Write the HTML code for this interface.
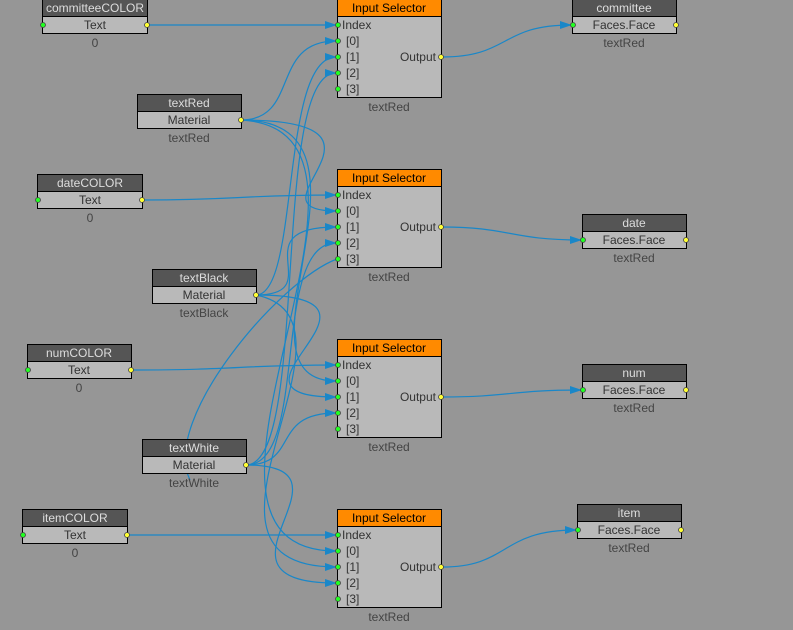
<!DOCTYPE html>
<html><head><meta charset="utf-8"><style>
html,body{margin:0;padding:0;background:#969696;}
svg{display:block;font-family:"Liberation Sans",sans-serif;font-size:12px;}
.h{fill:#555;stroke:#000;stroke-width:1}
.b{fill:#b9b9b9;stroke:#000;stroke-width:1}
.o{fill:#ff8a00;stroke:#000;stroke-width:1}
.ht{fill:#ddd;text-anchor:middle}
.bt{fill:#333;text-anchor:middle}
.lt{fill:#444;text-anchor:middle}
.w{fill:none;stroke:#1a87c8;stroke-width:1.2}
.g{fill:#2f2;stroke:#444;stroke-width:.8}
.y{fill:#ff3;stroke:#444;stroke-width:.8}
</style></head><body>
<svg width="793" height="630" viewBox="0 0 793 630" xmlns="http://www.w3.org/2000/svg">
<defs><marker id="a" markerWidth="12" markerHeight="8" refX="11" refY="4" orient="auto" markerUnits="userSpaceOnUse"><path d="M0,0 L12,4 L0,8z" fill="#1a87c8"/></marker></defs>

<g class="w">
<path d="M147,25 L336,25" marker-end="url(#a)"/>
<path d="M142,200 C240,200 240,195 336,195" marker-end="url(#a)"/>
<path d="M131,370 C240,370 240,365 336,365" marker-end="url(#a)"/>
<path d="M127,535 L336,535" marker-end="url(#a)"/>
<path d="M442,57 C510,57 500,25 571,25" marker-end="url(#a)"/>
<path d="M442,227 C510,227 510,240 581,240" marker-end="url(#a)"/>
<path d="M442,397 C510,397 510,390 581,390" marker-end="url(#a)"/>
<path d="M442,567 C510,567 500,530 576,530" marker-end="url(#a)"/>
<path d="M241,120 C300,120 270,41 336,41" marker-end="url(#a)"/>
<path d="M241,120 C420,120 240,211 336,211" marker-end="url(#a)"/>
<path d="M241,120 C400,120 220,381 336,381" marker-end="url(#a)"/>
<path d="M241,120 C430,130 140,551 336,551" marker-end="url(#a)"/>
<path d="M256,295 C300,295 280,57 336,57" marker-end="url(#a)"/>
<path d="M256,295 C330,295 240,227 336,227" marker-end="url(#a)"/>
<path d="M256,295 C420,295 200,397 336,397" marker-end="url(#a)"/>
<path d="M256,295 C380,320 160,567 336,567" marker-end="url(#a)"/>
<path d="M246,465 C310,465 270,73 336,73" marker-end="url(#a)"/>
<path d="M246,465 C310,465 270,243 336,243" marker-end="url(#a)"/>
<path d="M246,465 C300,465 270,413 336,413" marker-end="url(#a)"/>
<path d="M246,465 C370,465 190,583 336,583" marker-end="url(#a)"/>
<path d="M190,480 C160,420 280,280 337,259"/>
</g>

<g>
<rect class="h" x="42.5" y="-0.5" width="105" height="17"/><rect class="b" x="42.5" y="16.5" width="105" height="17"/>
<text class="ht" x="95" y="12">committeeCOLOR</text><text class="bt" x="95" y="29">Text</text><text class="lt" x="95" y="47">0</text>
<circle class="g" cx="43" cy="25" r="2.5"/><circle class="y" cx="147" cy="25" r="2.5"/>

<rect class="h" x="137.5" y="94.5" width="104" height="17"/><rect class="b" x="137.5" y="111.5" width="104" height="17"/>
<text class="ht" x="189" y="107">textRed</text><text class="bt" x="189" y="124">Material</text><text class="lt" x="189" y="142">textRed</text>
<circle class="y" cx="241" cy="120" r="2.5"/>

<rect class="h" x="37.5" y="174.5" width="105" height="17"/><rect class="b" x="37.5" y="191.5" width="105" height="17"/>
<text class="ht" x="90" y="187">dateCOLOR</text><text class="bt" x="90" y="204">Text</text><text class="lt" x="90" y="222">0</text>
<circle class="g" cx="38" cy="200" r="2.5"/><circle class="y" cx="142" cy="200" r="2.5"/>

<rect class="h" x="152.5" y="269.5" width="104" height="17"/><rect class="b" x="152.5" y="286.5" width="104" height="17"/>
<text class="ht" x="204" y="282">textBlack</text><text class="bt" x="204" y="299">Material</text><text class="lt" x="204" y="317">textBlack</text>
<circle class="y" cx="256" cy="295" r="2.5"/>

<rect class="h" x="27.5" y="344.5" width="104" height="17"/><rect class="b" x="27.5" y="361.5" width="104" height="17"/>
<text class="ht" x="79" y="357">numCOLOR</text><text class="bt" x="79" y="374">Text</text><text class="lt" x="79" y="392">0</text>
<circle class="g" cx="28" cy="370" r="2.5"/><circle class="y" cx="131" cy="370" r="2.5"/>

<rect class="h" x="142.5" y="439.5" width="104" height="17"/><rect class="b" x="142.5" y="456.5" width="104" height="17"/>
<text class="ht" x="194" y="452">textWhite</text><text class="bt" x="194" y="469">Material</text><text class="lt" x="194" y="487">textWhite</text>
<circle class="y" cx="246" cy="465" r="2.5"/>

<rect class="h" x="22.5" y="509.5" width="105" height="17"/><rect class="b" x="22.5" y="526.5" width="105" height="17"/>
<text class="ht" x="75" y="522">itemCOLOR</text><text class="bt" x="75" y="539">Text</text><text class="lt" x="75" y="557">0</text>
<circle class="g" cx="23" cy="535" r="2.5"/><circle class="y" cx="127" cy="535" r="2.5"/>
</g>

<g id="s0">
<rect class="o" x="337.5" y="-0.5" width="104" height="17"/><rect class="b" x="337.5" y="16.5" width="104" height="81"/>
<text x="389" y="12" fill="#000" text-anchor="middle">Input Selector</text>
<text x="342" y="29" fill="#333">Index</text>
<text x="346" y="45" fill="#333">[0]</text><text x="346" y="61" fill="#333">[1]</text><text x="346" y="77" fill="#333">[2]</text><text x="346" y="93" fill="#333">[3]</text>
<text x="436" y="61" fill="#333" text-anchor="end">Output</text>
<text class="lt" x="389" y="111">textRed</text>
<circle class="g" cx="338" cy="25" r="2.5"/><circle class="g" cx="338" cy="41" r="2.5"/><circle class="g" cx="338" cy="57" r="2.5"/><circle class="g" cx="338" cy="73" r="2.5"/><circle class="g" cx="338" cy="89" r="2.5"/>
<circle class="y" cx="441" cy="57" r="2.5"/>
</g>
<use href="#s0" y="170"/>
<use href="#s0" y="340"/>
<use href="#s0" y="510"/>

<g>
<rect class="h" x="572.5" y="-0.5" width="104" height="17"/><rect class="b" x="572.5" y="16.5" width="104" height="17"/>
<text class="ht" x="624" y="12">committee</text><text class="bt" x="624" y="29">Faces.Face</text><text class="lt" x="624" y="47">textRed</text>
<circle class="g" cx="573" cy="25" r="2.5"/><circle class="y" cx="676" cy="25" r="2.5"/>

<rect class="h" x="582.5" y="214.5" width="104" height="17"/><rect class="b" x="582.5" y="231.5" width="104" height="17"/>
<text class="ht" x="634" y="227">date</text><text class="bt" x="634" y="244">Faces.Face</text><text class="lt" x="634" y="262">textRed</text>
<circle class="g" cx="583" cy="240" r="2.5"/><circle class="y" cx="686" cy="240" r="2.5"/>

<rect class="h" x="582.5" y="364.5" width="104" height="17"/><rect class="b" x="582.5" y="381.5" width="104" height="17"/>
<text class="ht" x="634" y="377">num</text><text class="bt" x="634" y="394">Faces.Face</text><text class="lt" x="634" y="412">textRed</text>
<circle class="g" cx="583" cy="390" r="2.5"/><circle class="y" cx="686" cy="390" r="2.5"/>

<rect class="h" x="577.5" y="504.5" width="104" height="17"/><rect class="b" x="577.5" y="521.5" width="104" height="17"/>
<text class="ht" x="629" y="517">item</text><text class="bt" x="629" y="534">Faces.Face</text><text class="lt" x="629" y="552">textRed</text>
<circle class="g" cx="578" cy="530" r="2.5"/><circle class="y" cx="681" cy="530" r="2.5"/>
</g>
</svg>
</body></html>
